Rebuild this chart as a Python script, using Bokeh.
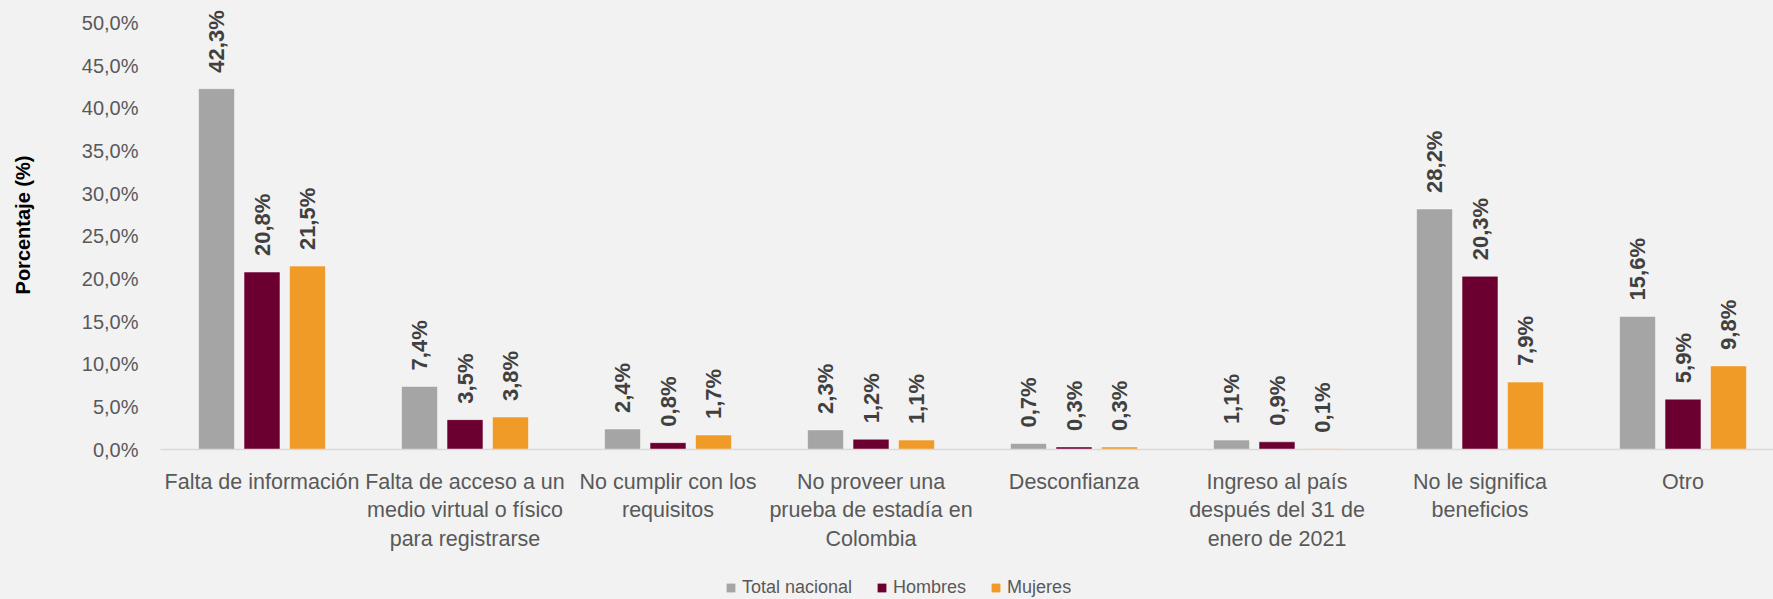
import math
from bokeh.plotting import figure
from bokeh.layouts import column
from bokeh.models import (ColumnDataSource, FixedTicker, Range1d, Legend, LegendItem)
from bokeh.transform import dodge
from bokeh.core.properties import value
from bokeh.embed import file_html
from bokeh.resources import INLINE

categories = [
    "Falta de información",
    "Falta de acceso a un\nmedio virtual o físico\npara registrarse",
    "No cumplir con los\nrequisitos",
    "No proveer una\nprueba de estadía en\nColombia",
    "Desconfianza",
    "Ingreso al país\ndespués del 31 de\nenero de 2021",
    "No le significa\nbeneficios",
    "Otro",
]
total_nacional = [42.3, 7.4, 2.4, 2.3, 0.7, 1.1, 28.2, 15.6]
hombres = [20.8, 3.5, 0.8, 1.2, 0.3, 0.9, 20.3, 5.9]
mujeres = [21.5, 3.8, 1.7, 1.1, 0.3, 0.1, 7.9, 9.8]
series_names = ["Total nacional", "Hombres", "Mujeres"]
y_ticks = [0, 5, 10, 15, 20, 25, 30, 35, 40, 45, 50]

colors = ["#A5A5A5", "#6B0030", "#F09A28"]
FONT = "Liberation Sans"
LABEL_COLOR = "#595959"
BG = "#F2F2F2"

def fmt(v):
    return ("%.1f" % v).replace(".", ",") + "%"

idx = list(range(len(categories)))
src = ColumnDataSource(dict(
    x=idx,
    total=total_nacional, hom=hombres, muj=mujeres,
    total_l=[fmt(v) for v in total_nacional],
    hom_l=[fmt(v) for v in hombres],
    muj_l=[fmt(v) for v in mujeres],
))

W = 1773
H_MAIN, H_LEG = 566, 33
FRAME_LEFT, FRAME_BOTTOM = 160, 449
BAND = 203.0
PX_PER_PCT = 8.53
p = figure(width=W, height=H_MAIN, output_backend="svg", toolbar_location=None,
           x_range=Range1d(-0.5, -0.5 + (W - FRAME_LEFT) / BAND),
           y_range=Range1d(0, FRAME_BOTTOM / PX_PER_PCT),
           min_border_left=FRAME_LEFT, min_border_right=0, min_border_top=0,
           min_border_bottom=H_MAIN - FRAME_BOTTOM)
p.background_fill_color = BG
p.border_fill_color = BG
p.outline_line_color = None
p.xgrid.visible = False
p.ygrid.visible = False

off = 0.224
bw = 0.177
keys = ["total", "hom", "muj"]
offsets = [-off, 0, off]
for k, o, c in zip(keys, offsets, colors):
    p.vbar(x=dodge("x", o), top=k, width=bw, source=src, fill_color=c,
           line_color="white", line_alpha=0.45, line_width=1)
    p.text(x=dodge("x", o), y=k, text=k + "_l", source=src, angle=math.pi / 2,
           text_align="left", text_baseline="middle", y_offset=-16,
           text_font=value(FONT), text_font_style="bold", text_font_size="22px",
           text_color="#404040")

ax = p.xaxis[0]
ax.ticker = FixedTicker(ticks=idx)
ax.major_label_overrides = {i: c for i, c in enumerate(categories)}
ax.major_tick_line_color = None
ax.minor_tick_line_color = None
ax.axis_line_color = "#D9D9D9"
ax.axis_line_width = 1.5
ax.major_label_text_font = FONT
ax.major_label_text_font_size = "21.5px"
ax.major_label_text_color = LABEL_COLOR
ax.major_label_standoff = 14

p.yaxis.ticker = FixedTicker(ticks=y_ticks)
p.yaxis.major_label_overrides = {t: fmt(t) for t in y_ticks}
p.yaxis.major_tick_line_color = None
p.yaxis.minor_tick_line_color = None
p.yaxis.axis_line_color = None
p.yaxis.major_label_text_font = FONT
p.yaxis.major_label_text_font_size = "20px"
p.yaxis.major_label_text_color = LABEL_COLOR
p.yaxis.major_label_standoff = 16
p.yaxis.axis_label = "Porcentaje (%)"
p.yaxis.axis_label_text_font = FONT
p.yaxis.axis_label_text_font_style = "bold"
p.yaxis.axis_label_text_font_size = "20px"
p.yaxis.axis_label_text_color = "#000000"
p.yaxis.axis_label_standoff = 45

# legend strip (frame aligned with the main plot's frame)
lg = figure(width=W, height=H_LEG, output_backend="svg", toolbar_location=None,
            x_range=Range1d(0, 1), y_range=Range1d(0, 1),
            min_border_left=FRAME_LEFT, min_border_right=0,
            min_border_top=0, min_border_bottom=0)
lg.background_fill_color = BG
lg.border_fill_color = BG
lg.outline_line_color = None
lg.axis.visible = False
lg.grid.visible = False
leg_renderers = []
for c in colors:
    r = lg.vbar(x=[0.5], top=[0], bottom=[0], width=0, fill_color=c, line_color=None)
    leg_renderers.append(r)

legend = Legend(items=[LegendItem(label=n, renderers=[r]) for n, r in zip(series_names, leg_renderers)],
                orientation="horizontal", location=(725 - FRAME_LEFT, 1),
                glyph_width=11, glyph_height=11, label_standoff=6, spacing=24,
                padding=0, margin=0, background_fill_alpha=0, border_line_color=None,
                label_text_font=FONT, label_text_font_size="18px", label_text_color=LABEL_COLOR)
lg.add_layout(legend, "center")

layout = column(p, lg, spacing=0)
layout.styles = {"background-color": BG}
open("out.html", "w").write(file_html(layout, INLINE))
